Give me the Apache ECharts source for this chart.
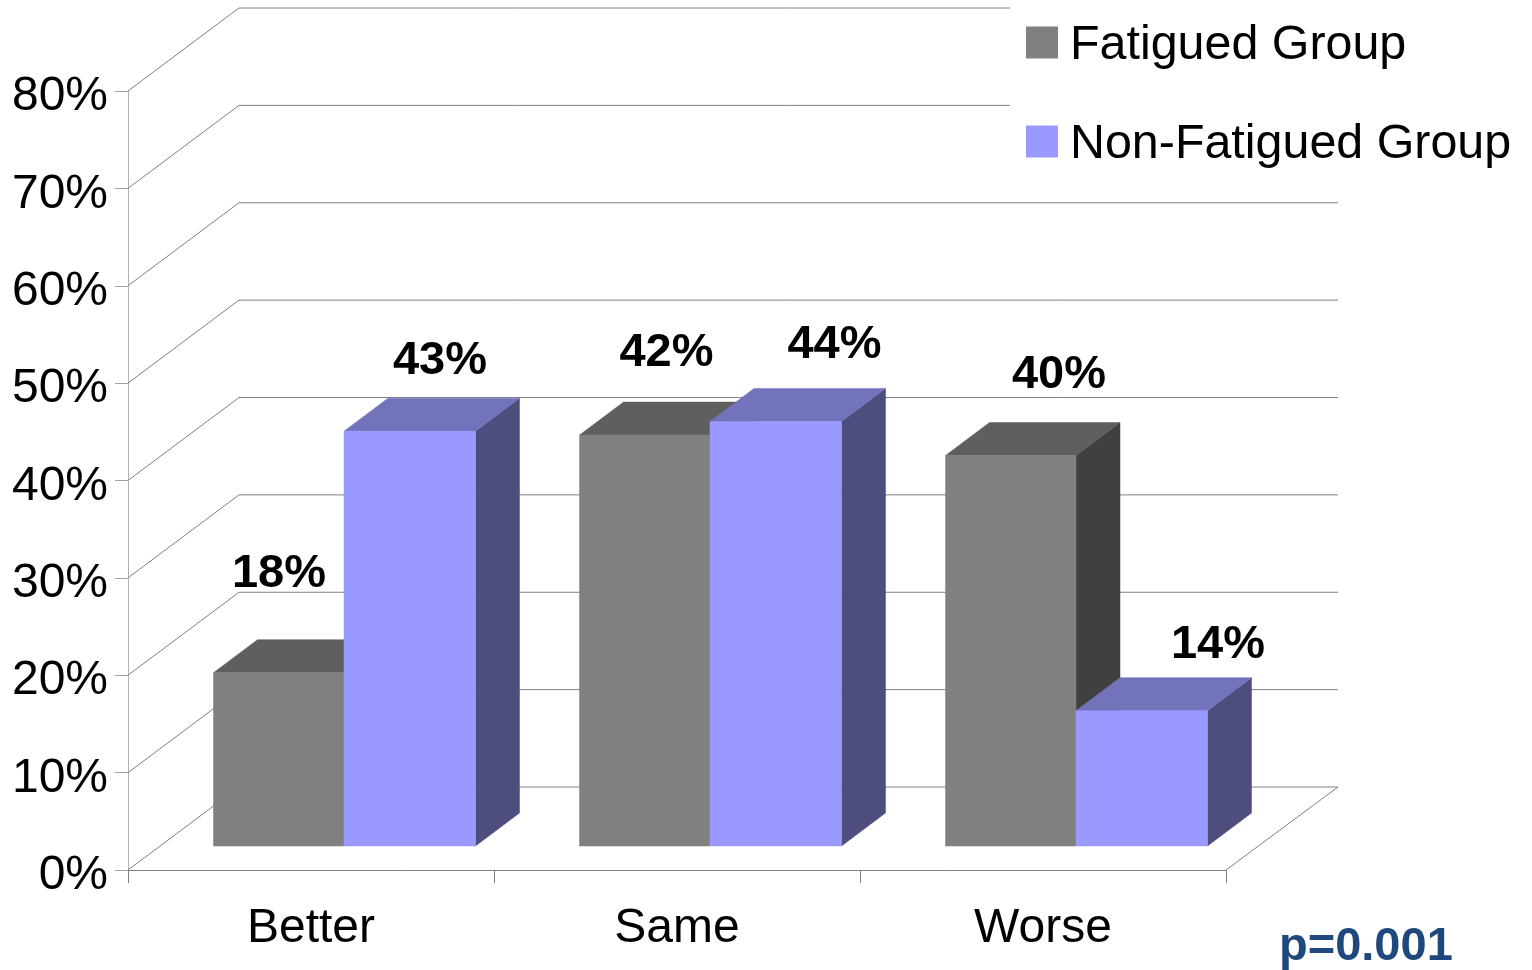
<!DOCTYPE html>
<html><head><meta charset="utf-8">
<style>html,body{margin:0;padding:0;background:#fff}#c{width:1532px;height:970px}</style>
<script src="https://cdn.jsdelivr.net/npm/echarts@6/dist/echarts.min.js"></script>
</head><body><div id="c"></div>
<script>
var categories = ['Better', 'Same', 'Worse'];
var fatigued = [17.8, 42.2, 40.1];
var nonFatigued = [42.6, 43.6, 13.9];
var gridTicks = [0, 10, 20, 30, 40, 50, 60, 70, 80];

var FONT = '"Liberation Sans", Arial, sans-serif';
var wallDx = 111, wallDy = -83;
var floorDy = -24, depthDx = 44, depthDy = -33;
var barEdges = [[-97.5, 33], [33, 164.5]];
var labelShift = [
  [[-32, -99], [-10.5, -82], [16, -80]],
  [[129, -70], [157.5, -76], [175, -66]]
];
var shades = [
  {front: '#808080', top: '#5f5f5f', side: '#404040'},
  {front: '#9999ff', top: '#7373bb', side: '#4d4d7e'}
];

function poly(pts, color) {
  return {type: 'polygon', shape: {points: pts}, style: {fill: color, stroke: color, lineWidth: 0.5}};
}
function renderBar(params, api) {
  var si = params.seriesIndex - 1, i = api.value(0), v = api.value(1);
  var top = api.coord([i, v]), base = api.coord([i, 0]);
  var xl = top[0] + barEdges[si][0], xr = top[0] + barEdges[si][1];
  var yt = top[1] + floorDy, yb = base[1] + floorDy, s = shades[si];
  return {type: 'group', children: [
    poly([[xr, yt], [xr + depthDx, yt + depthDy], [xr + depthDx, yb + depthDy], [xr, yb]], s.side),
    poly([[xl, yt], [xl + depthDx, yt + depthDy], [xr + depthDx, yt + depthDy], [xr, yt]], s.top),
    poly([[xl, yt], [xr, yt], [xr, yb], [xl, yb]], s.front),
    {type: 'text', z2: 50, style: {
      x: top[0] + labelShift[si][i][0], y: yt + labelShift[si][i][1],
      text: Math.round(v) + '%', fill: '#000', align: 'center', verticalAlign: 'middle',
      font: 'bold 47px ' + FONT}}
  ]};
}
function renderWall(params, api) {
  var cs = params.coordSys, y = api.coord([0, api.value(0)])[1];
  var xl = cs.x, xr = cs.x + cs.width;
  var line = {stroke: '#808080', lineWidth: 1};
  var kids = [
    {type: 'line', shape: {x1: xl, y1: y, x2: xl + wallDx, y2: y + wallDy}, style: line},
    {type: 'line', shape: {x1: xl + wallDx, y1: y + wallDy, x2: xr + wallDx + 1, y2: y + wallDy}, style: line}
  ];
  if (api.value(0) === 0) {
    kids.push({type: 'line', shape: {x1: xr, y1: y, x2: xr + wallDx + 1, y2: y + wallDy}, style: line});
  }
  return {type: 'group', children: kids};
}
function barData(arr) { return arr.map(function (v, i) { return [i, v]; }); }

var chart = echarts.init(document.getElementById('c'), null, {renderer: 'canvas'});
chart.setOption({
  animation: false,
  backgroundColor: '#fff',
  grid: {left: 128, top: 91, width: 1098, height: 779, containLabel: false},
  xAxis: {
    type: 'category', data: categories,
    axisLine: {lineStyle: {color: '#808080', width: 1}},
    axisTick: {show: true, length: 13, lineStyle: {color: '#808080'}},
    axisLabel: {color: '#000', fontFamily: FONT, fontSize: 48, margin: 35}
  },
  yAxis: {
    type: 'value', min: 0, max: 80, interval: 10,
    axisLine: {show: true, lineStyle: {color: '#b3b3b3', width: 1}},
    axisTick: {show: true, length: 13, lineStyle: {color: '#a0a0a0'}},
    splitLine: {show: false},
    axisLabel: {formatter: '{t|{value}%}', margin: 20,
      rich: {t: {color: '#000', fontFamily: FONT, fontSize: 48, padding: [12, 0, 0, 0]}}}
  },
  legend: {
    data: ['Fatigued Group', 'Non-Fatigued Group'],
    orient: 'vertical', left: 1010, top: 0,
    padding: [21.5, 10, 18, 16],
    backgroundColor: '#fff', z: 10,
    itemWidth: 32, itemHeight: 32, itemGap: 51, icon: 'rect',
    formatter: '{t|{name}}',
    textStyle: {rich: {t: {color: '#000', fontFamily: FONT, fontSize: 48.4, padding: [6, 0, 0, 7]}}}
  },
  series: [
    {type: 'custom', name: 'walls', coordinateSystem: 'cartesian2d', clip: false, z: 1,
      silent: true, encode: {y: 0}, renderItem: renderWall,
      data: gridTicks.map(function (t) { return [t]; })},
    {type: 'custom', name: 'Fatigued Group', coordinateSystem: 'cartesian2d', clip: false, z: 3,
      itemStyle: {color: shades[0].front}, encode: {x: 0, y: 1}, renderItem: renderBar, data: barData(fatigued)},
    {type: 'custom', name: 'Non-Fatigued Group', coordinateSystem: 'cartesian2d', clip: false, z: 4,
      itemStyle: {color: shades[1].front}, encode: {x: 0, y: 1}, renderItem: renderBar, data: barData(nonFatigued)}
  ],
  graphic: [{type: 'text', left: 1279, top: 924, z: 20,
    style: {text: 'p=0.001', fill: '#1f497d', font: 'bold 47px ' + FONT}}]
});
</script></body></html>
